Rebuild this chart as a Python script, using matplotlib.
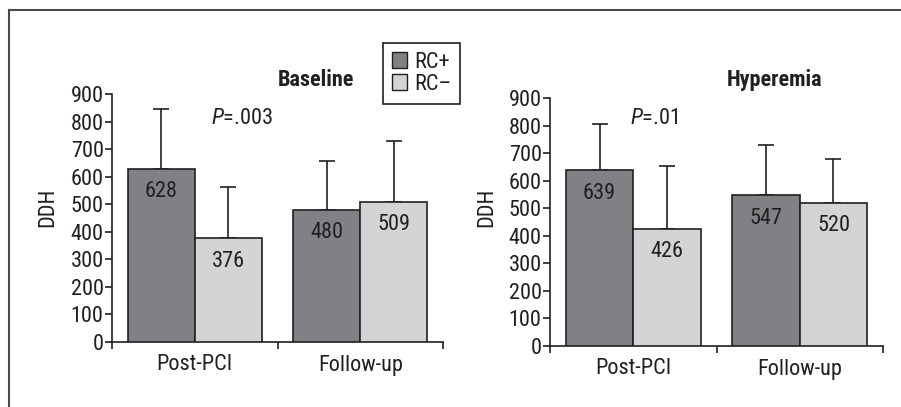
import matplotlib
matplotlib.use("Agg")
import matplotlib.pyplot as plt
from matplotlib.lines import Line2D
from matplotlib.patches import Patch
import numpy as np

plt.rcParams['font.family'] = ['Roboto Condensed', 'DejaVu Sans']
plt.rcParams['mathtext.fontset'] = 'custom'
plt.rcParams['mathtext.it'] = 'Roboto Condensed:italic'
plt.rcParams['mathtext.rm'] = 'Roboto Condensed'

categories = ["Post-PCI", "Follow-up"]
groups = ["RC+", "RC\u2013"]
panel_titles = ["Baseline", "Hyperemia"]
p_texts = [".003", ".01"]

baseline_pos = [628, 480]
baseline_neg = [376, 509]
baseline_pos_sd = [216, 176]
baseline_neg_sd = [185, 221]

hyper_pos = [639, 547]
hyper_neg = [426, 520]
hyper_pos_sd = [168, 184]
hyper_neg_sd = [229, 159]

dark = "#808185"
light = "#d3d4d6"
edge = "#231f20"
fs = 16

fig = plt.figure(figsize=(9.01, 4.07), dpi=100)

# outer frame, top and left only
fig.add_artist(Line2D([9/901, 1], [1-10/407, 1-10/407], color="#4a4a4a", lw=1.5))
fig.add_artist(Line2D([9/901, 9/901], [0, 1-10/407], color="#4a4a4a", lw=1.5))

panels = [
    ([112/901, 65/407, 331/901, 248/407], baseline_pos, baseline_neg, baseline_pos_sd, baseline_neg_sd, 48/901, 316/901, 211/901),
    ([550/901, 61/407, 333/901, 247.7/407], hyper_pos, hyper_neg, hyper_pos_sd, hyper_neg_sd, 487/901, 775/901, 630/901),
]

x = np.arange(len(categories))
w = 0.405
for i, (rect, pos, neg, pos_sd, neg_sd, ylab_x, title_x, p_x) in enumerate(panels):
    ax = fig.add_axes(rect)
    ax.bar(x - w/2, pos, w, color=dark, edgecolor=edge, linewidth=1.2, zorder=3)
    ax.bar(x + w/2, neg, w, color=light, edgecolor=edge, linewidth=1.2, zorder=3)
    ax.errorbar(x - w/2, pos, yerr=[[0]*len(pos), pos_sd], fmt="none", ecolor=edge,
                elinewidth=1.2, capsize=6, capthick=1.2, zorder=2)
    ax.errorbar(x + w/2, neg, yerr=[[0]*len(neg), neg_sd], fmt="none", ecolor=edge,
                elinewidth=1.2, capsize=6, capthick=1.2, zorder=2)
    for xi, v in zip(x - w/2, pos):
        ax.annotate(str(v), (xi, v), xytext=(0, -23), textcoords="offset pixels",
                    ha="center", va="center", fontsize=fs, color=edge, zorder=4)
    for xi, v in zip(x + w/2, neg):
        ax.annotate(str(v), (xi, v), xytext=(0, -23), textcoords="offset pixels",
                    ha="center", va="center", fontsize=fs, color=edge, zorder=4)

    ax.set_xlim(-0.5, 1.5)
    ax.set_ylim(0, 900)
    ax.set_yticks(range(0, 901, 100))
    ax.set_xticks([-0.5, 0.5, 1.5])
    ax.set_xticklabels([])
    ax.set_xticks(x, minor=True)
    ax.set_xticklabels(categories, minor=True)
    ax.tick_params(axis="x", which="minor", length=0, pad=9, labelsize=fs, labelcolor=edge)
    ax.tick_params(axis="x", which="major", length=5, width=1.2, color=edge)
    ax.tick_params(axis="y", length=5, width=1.2, pad=1, labelsize=fs, color=edge, labelcolor=edge)
    for s in ["top", "right"]:
        ax.spines[s].set_visible(False)
    for s in ["left", "bottom"]:
        ax.spines[s].set_linewidth(1.2)
        ax.spines[s].set_color(edge)

    fig.text(ylab_x, 1-207/407, "DDH", rotation=90, ha="center", va="center", fontsize=fs, color=edge)
    fig.text(title_x, 1-80/407, panel_titles[i], ha="center", va="center",
             fontsize=fs, fontweight="bold", color=edge)
    fig.text(p_x, 1-118/407, "$\\it{P}$=" + p_texts[i], ha="left", va="center", fontsize=fs, color=edge)

handles = [Patch(facecolor=dark, edgecolor=edge), Patch(facecolor=light, edgecolor=edge)]
leg = fig.legend(handles, groups, loc="upper left", bbox_to_anchor=(383/901, 1-43/407),
                 borderaxespad=0, fancybox=False, edgecolor=edge, fontsize=fs,
                 handlelength=0.7, handleheight=0.7, handletextpad=0.3,
                 labelspacing=0.05, borderpad=0.4, framealpha=1)
leg.get_frame().set_linewidth(1.2)
for t in leg.get_texts():
    t.set_color(edge)

fig.savefig("out.png", dpi=100)
